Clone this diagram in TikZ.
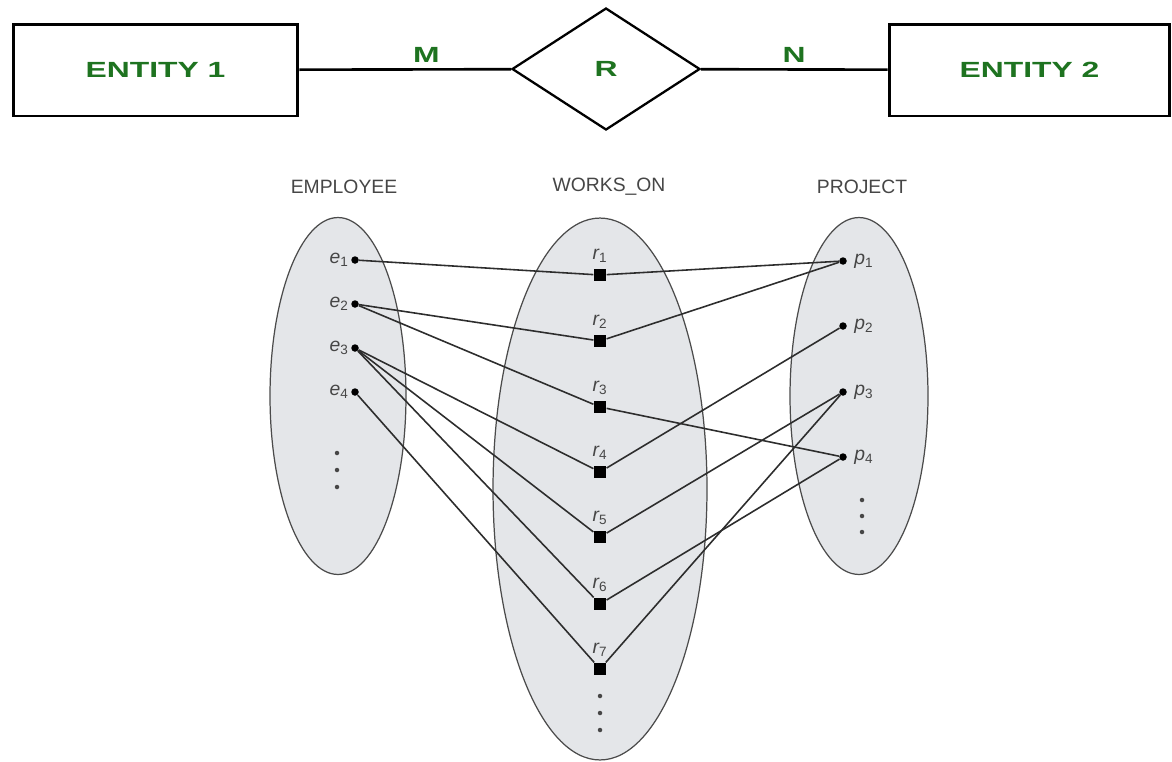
\documentclass[tikz,border=0pt]{standalone}
\usepackage{fontspec}
\setmainfont{Liberation Sans}
\newfontfamily\erfont[FakeStretch=1.45]{Liberation Sans}
\usetikzlibrary{shapes.geometric}

\definecolor{ergreen}{RGB}{30,115,32}
\definecolor{setfill}{RGB}{228,230,233}
\definecolor{setline}{RGB}{75,75,75}
\definecolor{linkgray}{RGB}{45,45,45}
\definecolor{textgray}{RGB}{70,70,70}

\tikzset{
  entity/.style={draw, line width=1.7pt, minimum height=1.84cm, inner sep=0pt,
    font=\erfont\bfseries\fontsize{12.5}{14}\selectfont, text=ergreen},
  relation/.style={draw, diamond, line width=1.3pt, minimum width=3.76cm,
    minimum height=2.44cm, inner sep=0pt,
    font=\erfont\bfseries\fontsize{12.5}{14}\selectfont, text=ergreen},
  card/.style={font=\erfont\bfseries\fontsize{12.5}{14}\selectfont, text=ergreen},
  set/.style={draw=setline, fill=setfill, ellipse, line width=0.7pt, inner sep=0pt},
  title/.style={font=\fontsize{11}{13}\selectfont, text=textgray},
  lbl/.style={font=\itshape\fontsize{11}{13}\selectfont, text=textgray, inner sep=1pt},
  elem/.style={circle, fill=black, inner sep=0pt, minimum size=0.15cm},
  relbox/.style={rectangle, fill=black, inner sep=0pt, minimum size=0.25cm},
  link/.style={draw=linkgray, line width=0.9pt}
}

\begin{document}
\begin{tikzpicture}[x=0.02cm, y=-0.02cm]
      \useasboundingbox (0,0) rectangle (1172,761);

      % top: ER notation
      \node[entity, minimum width=5.7cm]  (E1) at (155.5,70) {ENTITY 1};
      \node[relation]                     (R)  at (606,69)   {R};
      \node[entity, minimum width=5.62cm] (E2) at (1029.5,70) {ENTITY 2};

      \path (E1) edge[line width=1.5pt] node[card, above, pos=0.6] {M} (R);
      \path (R)  edge[line width=1.5pt] node[card, above]          {N} (E2);

      % bottom: instance diagram
      \node[title] (tEmp)  at (344,187) {EMPLOYEE};
      \node[title] (tWork) at (609,187) {WORKS\_ON};
      \node[title] (tProj) at (862,187) {PROJECT};

      \node[set, minimum width=2.72cm, minimum height=7.14cm]  (emp)   at (338,396) {};
      \node[set, minimum width=4.28cm, minimum height=10.84cm] (works) at (600,489) {};
      \node[set, minimum width=2.76cm, minimum height=7.14cm]  (proj)  at (859,396) {};

      \node[elem, label={[lbl]left:e\textsubscript{\upshape 1}}] (e1) at (355,260) {};
      \node[elem, label={[lbl]left:e\textsubscript{\upshape 2}}] (e2) at (355,304) {};
      \node[elem, label={[lbl]left:e\textsubscript{\upshape 3}}] (e3) at (355,348) {};
      \node[elem, label={[lbl]left:e\textsubscript{\upshape 4}}] (e4) at (355,392) {};

      \node[relbox, label={[lbl, label distance=2pt]above:r\textsubscript{\upshape 1}}] (r1) at (600,275) {};
      \node[relbox, label={[lbl, label distance=2pt]above:r\textsubscript{\upshape 2}}] (r2) at (600,341) {};
      \node[relbox, label={[lbl, label distance=2pt]above:r\textsubscript{\upshape 3}}] (r3) at (600,407) {};
      \node[relbox, label={[lbl, label distance=2pt]above:r\textsubscript{\upshape 4}}] (r4) at (600,472) {};
      \node[relbox, label={[lbl, label distance=2pt]above:r\textsubscript{\upshape 5}}] (r5) at (600,537) {};
      \node[relbox, label={[lbl, label distance=2pt]above:r\textsubscript{\upshape 6}}] (r6) at (600,604) {};
      \node[relbox, label={[lbl, label distance=2pt]above:r\textsubscript{\upshape 7}}] (r7) at (600,669) {};

      \node[elem, label={[lbl, label distance=3pt]right:p\textsubscript{\upshape 1}}] (p1) at (843,261) {};
      \node[elem, label={[lbl, label distance=3pt]right:p\textsubscript{\upshape 2}}] (p2) at (843,326) {};
      \node[elem, label={[lbl, label distance=3pt]right:p\textsubscript{\upshape 3}}] (p3) at (843,392) {};
      \node[elem, label={[lbl, label distance=3pt]right:p\textsubscript{\upshape 4}}] (p4) at (843,457) {};

      % more elements
      \fill[textgray] (337,453) circle (0.045cm) (337,470) circle (0.045cm) (337,487) circle (0.045cm);
      \fill[textgray] (600,696) circle (0.045cm) (600,713) circle (0.045cm) (600,730) circle (0.045cm);
      \fill[textgray] (862,500) circle (0.045cm) (862,516) circle (0.045cm) (862,532) circle (0.045cm);

      % employee side
      \path[link] (e1) -- (r1);
      \path[link] (e2) -- (r2);
      \path[link] (e2) -- (r3);
      \path[link] (e3) -- (r4);
      \path[link] (e3) -- (r5);
      \path[link] (e3) -- (r6);
      \path[link] (e4) -- (r7);

      % project side
      \path[link] (r1) -- (p1);
      \path[link] (r2) -- (p1);
      \path[link] (r3) -- (p4);
      \path[link] (r4) -- (p2);
      \path[link] (r5) -- (p3);
      \path[link] (r6) -- (p4);
      \path[link] (r7) -- (p3);
    \end{tikzpicture}
\end{document}
